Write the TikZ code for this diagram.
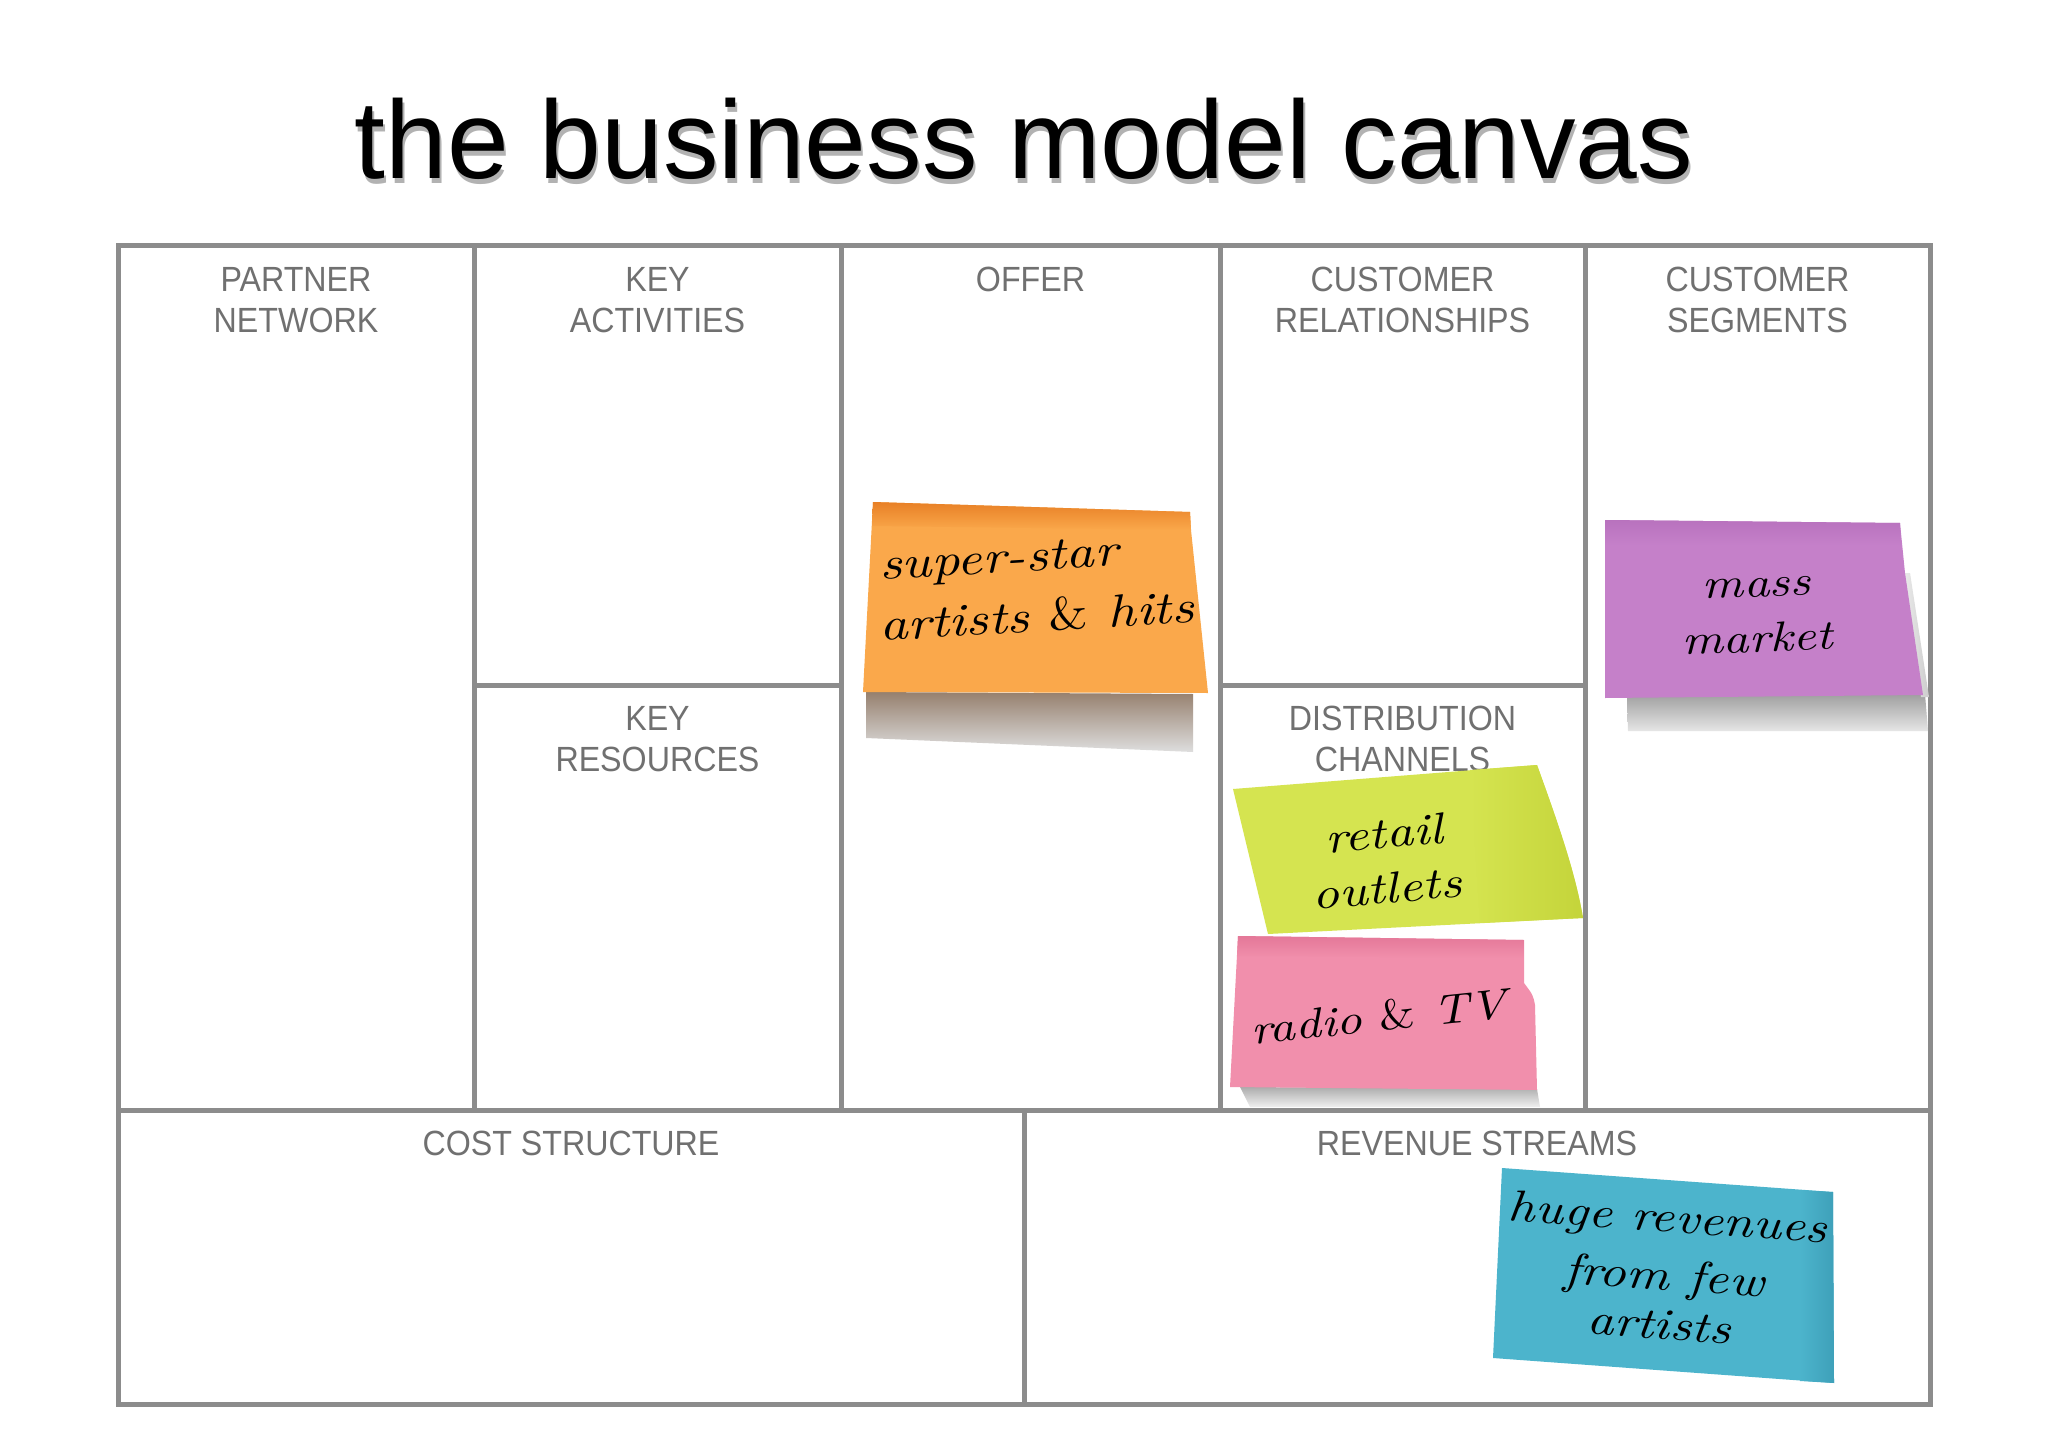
\documentclass[tikz,border=0pt]{standalone}
\usepackage{fontspec}
\newfontfamily\titlefont{Liberation Sans}
\newfontfamily\labfont[FakeStretch=0.92]{Liberation Sans}
\newfontfamily\handfont[FakeStretch=1.2]{lmroman10-italic.otf}
\newfontfamily\handamp[FakeStretch=1.1]{lmroman10-regular.otf}
\definecolor{gridgray}{RGB}{140,140,140}
\definecolor{labgray}{RGB}{112,112,112}
\definecolor{orangenote}{RGB}{250,168,75}
\definecolor{orangedark}{RGB}{232,128,38}
\definecolor{purplenote}{RGB}{197,128,201}
\definecolor{purpledark}{RGB}{184,114,190}
\definecolor{greennote}{RGB}{213,228,80}
\definecolor{greendark}{RGB}{196,212,58}
\definecolor{pinknote}{RGB}{241,143,172}
\definecolor{pinkdark}{RGB}{228,120,152}
\definecolor{cyannote}{RGB}{76,180,204}
\definecolor{cyandark}{RGB}{62,160,185}
\definecolor{shadowtop}{RGB}{150,128,110}
\definecolor{shadowbot}{RGB}{222,222,222}
\begin{document}
\begin{tikzpicture}[x=1pt,y=-1pt,
  gridline/.style={line width=5pt, draw=gridgray},
  celllabel/.style={font=\labfont\fontsize{35}{41}\selectfont, text=labgray, align=center, anchor=north, inner sep=0pt},
  hand/.style={font=\handfont\fontsize{#1}{#1}\selectfont, text=black, inner sep=0pt, anchor=base},
  titletext/.style={font=\titlefont\fontsize{111}{130}\selectfont, inner sep=0pt, anchor=base}]
\fill[white] (0,0) rectangle (2048,1447);
\useasboundingbox (0,0) rectangle (2048,1447);

% title with soft drop shadow
\node[titletext, text=black!30] (titleshadow) at (1026,184) {the business model canvas};
\node[titletext, text=black] (title) at (1024,179) {the business model canvas};

% grid
\draw[gridline] (118,246) rectangle (1930,1404);
\draw[gridline] (474,246) -- (474,1110);
\draw[gridline] (841,246) -- (841,1110);
\draw[gridline] (1220,246) -- (1220,1110);
\draw[gridline] (1585,246) -- (1585,1110);
\draw[gridline] (474,685) -- (841,685);
\draw[gridline] (1220,685) -- (1585,685);
\draw[gridline] (118,1110) -- (1930,1110);
\draw[gridline] (1024,1110) -- (1024,1404);

% cell labels
\node[celllabel] (pn) at (296,267) {PARTNER\\NETWORK};
\node[celllabel] (ka) at (657.5,267) {KEY\\ACTIVITIES};
\node[celllabel] (of) at (1030.5,267) {OFFER};
\node[celllabel] (cr) at (1402.5,267) {CUSTOMER\\RELATIONSHIPS};
\node[celllabel] (cs) at (1757.5,267) {CUSTOMER\\SEGMENTS};
\node[celllabel] (kr) at (657.5,706) {KEY\\RESOURCES};
\node[celllabel] (dc) at (1402.5,706) {DISTRIBUTION\\CHANNELS};
\node[celllabel] (cost) at (571,1131) {COST STRUCTURE};
\node[celllabel] (rev) at (1477,1131) {REVENUE STREAMS};

% orange note
\shade[top color=shadowtop, bottom color=shadowbot] (866,692) -- (1193,694) -- (1193,752) -- (866,738) -- cycle;
\fill[orangenote] (873,502) -- (1190,512) -- (1191,530) -- (1208,693) -- (863,692) -- cycle;
\shade[top color=orangedark, bottom color=orangenote] (873,502) -- (1190,512) -- (1191,530) -- (872,526) -- cycle;
\node[hand=46, anchor=base west, rotate=3.5] (ss) at (880,580) {super-star};
\node[hand=46, anchor=base west, rotate=3.5] (ah) at (880,641) {artists {\handamp\&} hits};

% purple note
\shade[top color=gray!75, bottom color=gray!20] (1627,697) -- (1925,694) -- (1928,731) -- (1628,731) -- cycle;
\shade[left color=gray!15, right color=gray!40] (1903,573) -- (1910,573) -- (1929,697) -- (1921,697) -- cycle;
\fill[purplenote] (1605,520) -- (1900,523) -- (1905,573) -- (1923,695) -- (1605,698) -- cycle;
\shade[top color=purpledark, bottom color=purplenote] (1605,520) -- (1900,523) -- (1901,545) -- (1605,545) -- cycle;
\node[hand=42, rotate=2] (mass) at (1757,597) {mass};
\node[hand=42, rotate=2] (mkt) at (1758,652) {market};

% green note
\fill[greennote] (1233,789) -- (1537,765) .. controls (1555,815) and (1575,870) .. (1583,918) -- (1268,934) -- cycle;
\shade[left color=greennote, right color=greendark] (1470,770) -- (1537,765) .. controls (1555,815) and (1575,870) .. (1583,918) -- (1480,923) -- cycle;
\node[hand=44, rotate=5] (ret) at (1385,848) {retail};
\node[hand=44, rotate=5] (out) at (1388,903) {outlets};

% pink note
\shade[top color=gray!65, bottom color=gray!12] (1240,1087) -- (1537,1089) -- (1540,1107) -- (1250,1107) -- cycle;
\fill[pinknote] (1238,936) -- (1524,940) -- (1524,983) .. controls (1533,995) .. (1535,1005) -- (1537,1090) -- (1230,1087) -- cycle;
\shade[top color=pinkdark, bottom color=pinknote] (1238,936) -- (1524,940) -- (1524,958) -- (1237,956) -- cycle;
\node[hand=42, rotate=6] (rtv) at (1380,1031) {radio {\handamp\&} TV};

% cyan note
\fill[cyannote] (1502,1168) -- (1833,1192) -- (1834,1383) -- (1493,1358) -- cycle;
\shade[left color=cyannote, right color=cyandark] (1800,1190) -- (1833,1192) -- (1834,1383) -- (1800,1381) -- cycle;
\node[hand=44, rotate=-4] (hr) at (1667,1232) {huge revenues};
\node[hand=44, rotate=-4] (ff) at (1663,1290) {from few};
\node[hand=44, rotate=-4] (art) at (1658,1339) {artists};
\end{tikzpicture}
\end{document}
